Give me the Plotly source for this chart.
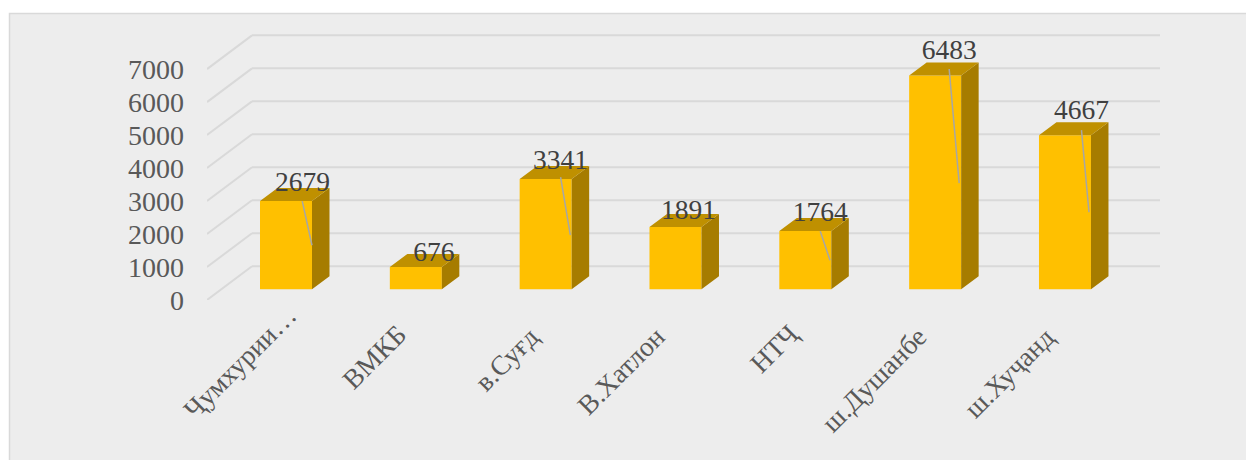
import plotly.graph_objects as go

categories = ["Ҷумхурии…", "ВМКБ", "в.Суғд", "В.Хатлон", "НТҶ", "ш.Душанбе", "ш.Хуҷанд"]
values = [2679, 676, 3341, 1891, 1764, 6483, 4667]
y_ticks = [0, 1000, 2000, 3000, 4000, 5000, 6000, 7000]

# leader lines from the value labels (None = no line drawn)
leader_top = [2671, None, 3400, None, 1760, 6677, 4825]
leader_bottom = [1335, None, 1639, None, 880, 3217, 2337]

# where the rotated labels and value labels sit relative to their bar
label_shift = [-0.358, -0.316, -0.298, -0.417, -0.239, -0.471, -0.43]
label_drop = [362, 356.5, 358, 370.5, 348.5, 379.5, 372]   # centre of each label, px from the top
value_shift_x = [0.128, 0.138, 0.115, 0.1, 0.115, 0.108, 0.127]
value_shift_y = [510, 380, 520, 440, 520, 710, 710]
leader_shift_top = [0.125, 0, 0.115, 0, 0.115, 0.108, 0.127]
leader_shift_bottom = [0.2, 0, 0.19, 0, 0.19, 0.185, 0.185]

W, H = 1246, 460
PLOT_L, PLOT_R, PLOT_T, PLOT_B = 207, 1160, 20, 299.7
CAT_PX = 129.83      # px per category
VAL_PX = 0.03295     # px per unit of value
CENTER_PX = 286

x_range = [(PLOT_L - CENTER_PX) / CAT_PX, (PLOT_R - CENTER_PX) / CAT_PX]
y_range = [0, (PLOT_B - PLOT_T) / VAL_PX]

BAR_W = 52 / CAT_PX
BASE = 10.7 / VAL_PX             # bars stand a bit behind the front floor edge
BAR_DX = 17.5 / CAT_PX
BAR_DY = 13 / VAL_PX
GRID_DX = 45 / CAT_PX
GRID_DY = 33.7 / VAL_PX

idx = list(range(len(categories)))
shapes = []

# panel
shapes.append(dict(type="rect", xref="paper", yref="paper", layer="below",
                   x0=(9.5 - PLOT_L) / (PLOT_R - PLOT_L), x1=(W + 20 - PLOT_L) / (PLOT_R - PLOT_L),
                   y0=(PLOT_B - H - 20) / (PLOT_B - PLOT_T), y1=(PLOT_B - 13.5) / (PLOT_B - PLOT_T),
                   fillcolor="#ededed", line=dict(color="#d9d9d9", width=1.5)))

# gridlines: slanted floor part then the back wall
for t in y_ticks:
    shapes.append(dict(type="line", xref="x", yref="y", layer="below",
                       x0=x_range[0], y0=t, x1=x_range[0] + GRID_DX, y1=t + GRID_DY,
                       line=dict(color="#d9d9d9", width=2)))
    shapes.append(dict(type="line", xref="x", yref="y", layer="below",
                       x0=x_range[0] + GRID_DX, y0=t + GRID_DY, x1=x_range[1], y1=t + GRID_DY,
                       line=dict(color="#d9d9d9", width=2)))

fig = go.Figure()

# front faces
fig.add_trace(go.Bar(x=idx, y=values, base=BASE, width=BAR_W,
                     marker=dict(color="#ffc000", line=dict(width=0)), showlegend=False))

# side and top faces
side_x, side_y, top_x, top_y = [], [], [], []
for i, v in zip(idx, values):
    r = i + BAR_W / 2
    l = i - BAR_W / 2
    side_x += [r, r + BAR_DX, r + BAR_DX, r, r, None]
    side_y += [BASE, BASE + BAR_DY, BASE + v + BAR_DY, BASE + v, BASE, None]
    top_x += [l, r, r + BAR_DX, l + BAR_DX, l, None]
    top_y += [BASE + v, BASE + v, BASE + v + BAR_DY, BASE + v + BAR_DY, BASE + v, None]
fig.add_trace(go.Scatter(x=side_x, y=side_y, mode="lines", fill="toself", fillcolor="#a67c00",
                         line=dict(width=0), showlegend=False, hoverinfo="skip"))
fig.add_trace(go.Scatter(x=top_x, y=top_y, mode="lines", fill="toself", fillcolor="#bf9000",
                         line=dict(width=0), showlegend=False, hoverinfo="skip"))

# leader lines
lead_x, lead_y = [], []
for i in idx:
    if leader_top[i] is None:
        continue
    lead_x += [i + leader_shift_top[i], i + leader_shift_bottom[i], None]
    lead_y += [BASE + leader_top[i], BASE + leader_bottom[i], None]
fig.add_trace(go.Scatter(x=lead_x, y=lead_y, mode="lines", line=dict(color="#a6a6a6", width=1.5),
                         showlegend=False, hoverinfo="skip"))

# value labels
fig.add_trace(go.Scatter(x=[i + s for i, s in zip(idx, value_shift_x)],
                         y=[BASE + v + s for v, s in zip(values, value_shift_y)],
                         mode="text", text=[str(v) for v in values], textposition="middle center",
                         textfont=dict(family="Liberation Serif", size=27.5, color="#404040"),
                         showlegend=False, hoverinfo="skip"))

# category labels, each placed by hand because the rotated labels don't share a baseline
annotations = []
for i, name in enumerate(categories):
    annotations.append(dict(x=i + label_shift[i], xref="x",
                            y=(PLOT_B - label_drop[i]) / (PLOT_B - PLOT_T), yref="paper",
                            text=name, textangle=-45, showarrow=False,
                            xanchor="center", yanchor="middle",
                            font=dict(family="Liberation Serif", size=27.5, color="#595959")))

fig.update_layout(
    width=W, height=H,
    margin=dict(l=PLOT_L, r=W - PLOT_R, t=PLOT_T, b=H - PLOT_B, autoexpand=False),
    paper_bgcolor="white", plot_bgcolor="rgba(0,0,0,0)",
    font=dict(family="Liberation Serif", color="#595959"),
    shapes=shapes, annotations=annotations, showlegend=False,
    xaxis=dict(range=x_range, tickvals=idx, showticklabels=False,
               showgrid=False, zeroline=False, showline=False, ticks=""),
    yaxis=dict(range=y_range, tickmode="array", tickvals=y_ticks,
               tickfont=dict(size=28, color="#595959"),
               showgrid=False, zeroline=False, showline=False, ticks="", ticklabelstandoff=22),
)

# page has a default body margin that would push the chart off the window
fig.write_html("out.html", config={"displayModeBar": False},
               post_script="document.body.style.margin = '0';")
